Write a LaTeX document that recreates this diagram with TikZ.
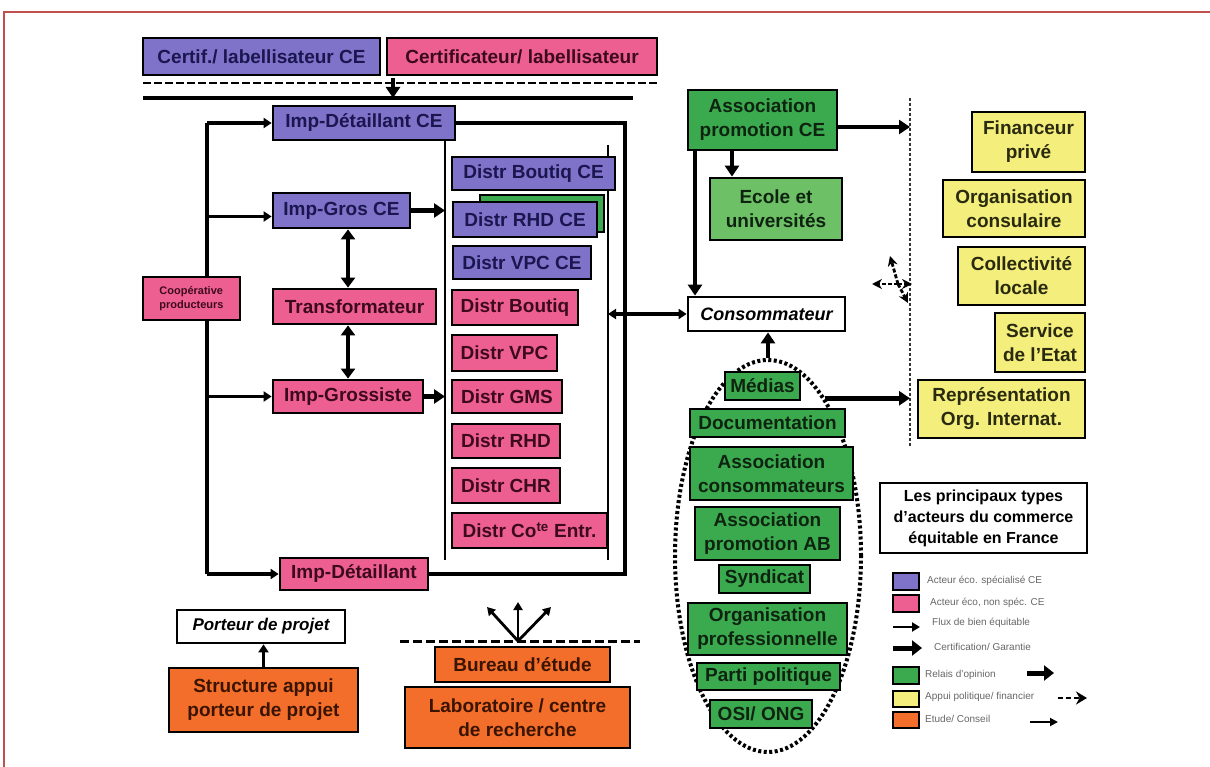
\documentclass[tikz,border=0pt]{standalone}
\usepackage{fontspec}
\setmainfont{Liberation Sans}
\usetikzlibrary{arrows.meta,shapes.geometric}
\definecolor{purp}{HTML}{7F72C9}
\definecolor{purpT}{HTML}{1A1650}
\definecolor{pinkc}{HTML}{EE5F91}
\definecolor{pinkT}{HTML}{3D0A1C}
\definecolor{grn}{HTML}{3BAA4E}
\definecolor{grnL}{HTML}{6DC065}
\definecolor{grnT}{HTML}{0E2410}
\definecolor{yel}{HTML}{F4EE7C}
\definecolor{yelT}{HTML}{2A2A10}
\definecolor{org}{HTML}{F36E2A}
\definecolor{orgT}{HTML}{3A1400}
\definecolor{frm}{HTML}{C0504D}
\newcommand\bx[7]{\node[#2,minimum width={(#5)-(#3)},minimum height={(#6)-(#4)}] (#1) at ({((#3)+(#5))/2},{((#4)+(#6))/2}) {#7};}
\tikzset{
  box/.style={draw=black, line width=2.8pt, inner sep=1pt, align=center,
    font=\fontsize{19}{24}\selectfont\bfseries},
  pu/.style={box, fill=purp, text=purpT},
  pk/.style={box, fill=pinkc, text=pinkT},
  gr/.style={box, fill=grn, text=grnT},
  gl/.style={box, fill=grnL, text=grnT},
  ye/.style={box, fill=yel, text=yelT},
  ob/.style={box, fill=org, text=orgT},
  wh/.style={box, fill=white, text=black, font=\fontsize{18}{22}\selectfont\bfseries\itshape},
  lg/.style={draw=black, line width=2pt, inner sep=0pt},
  lgt/.style={anchor=west, inner sep=0pt, text=black!60, font=\fontsize{10}{12}\selectfont},
  ln/.style={line width=3.2pt},
  thinln/.style={line width=2pt},
  flow/.style={line width=3.2pt, -{Triangle[length=8pt,width=10pt]}},
  flowd/.style={line width=3.2pt, {Triangle[length=8pt,width=10pt]}-{Triangle[length=8pt,width=10pt]}},
  big/.style={line width=4.8pt, -{Triangle[length=11pt,width=14pt]}},
  bigd/.style={line width=4.8pt, {Triangle[length=10pt,width=14pt]}-{Triangle[length=10pt,width=14pt]}},
  dashA/.style={line width=2.5pt, dash pattern=on 8pt off 3pt},
  dline/.style={line width=1.5pt, black!80, dash pattern=on 3pt off 2pt},
  dar/.style={line width=2.8pt, dash pattern=on 4pt off 2pt, -{Stealth[length=10pt,width=10pt]}},
  fan/.style={line width=2.8pt, -{Triangle[length=8pt,width=9pt]}},
}
\begin{document}
\begin{tikzpicture}[x=1pt,y=-1pt]
\useasboundingbox (0,0) rectangle (1210,767);
% frame
\draw[frm, line width=1.5pt] (4,767) -- (4,12) -- (1210,12);

% ---------- coordinates for free ends
\coordinate (dsh1) at (143,83); \coordinate (dsh2) at (657,83);
\coordinate (sl1) at (143,98);  \coordinate (sl2) at (633,98);
\coordinate (ca) at (393,78);
\coordinate (L) at (207,300);
\coordinate (R) at (625,300);
\coordinate (V) at (348,300);
\coordinate (i1t) at (445,140); \coordinate (i1b) at (445,560);
\coordinate (i2t) at (608,145); \coordinate (i2b) at (608,560);
\coordinate (ax) at (732,160);
\coordinate (cx) at (695,160);
\coordinate (D) at (910,98); \coordinate (Db) at (910,447);
\coordinate (dc) at (898,284);
\coordinate (dl1) at (872,284); \coordinate (dl2) at (890,256); \coordinate (dl3) at (908,303); \coordinate (dl4) at (912,284);
\coordinate (bd1) at (400,641); \coordinate (bd2) at (640,641);
\coordinate (fb) at (518,641);
\coordinate (f1) at (487,607); \coordinate (f2) at (518,602); \coordinate (f3) at (551,607);

% ---------- top
\draw[dashA] (dsh1) -- (dsh2);
\draw[ln] (sl1) -- (sl2);
\draw[big] (ca) -- (ca |- sl1);

% ---------- ellipse (behind green boxes)
\node[ellipse, draw, line width=4pt, dash pattern=on 3pt off 2.5pt,
  minimum width=186pt, minimum height=392pt, inner sep=0pt] (ell) at (768,556) {};

% ---------- boxes
\bx{cert1}{pu}{143}{38}{380}{75}{Certif./ labellisateur CE}
\bx{cert2}{pk}{387}{38}{657}{75}{Certificateur/ labellisateur}
\bx{idce}{pu}{273}{106}{455}{140}{Imp-Détaillant CE}
\bx{igce}{pu}{273}{193}{410}{228}{Imp-Gros CE}
\bx{tr}{pk}{273}{289}{436}{324}{Transformateur}
\bx{igr}{pk}{273}{380}{423}{413}{Imp-Grossiste}
\bx{idl}{pk}{280}{558}{428}{590}{Imp-Détaillant}

% lines of the left block
\draw[ln] (L |- idce.west) -- (L |- idl.west);
\draw[flow] (L |- idce.west) -- (idce.west);
\draw[flow] ([yshift=-6pt]L |- igce.west) -- ([yshift=-6pt]igce.west);
\draw[flow] (L |- igr.west) -- (igr.west);
\draw[flow] (L |- idl.west) -- (idl.west);
\draw[ln] (idce.east) -- (idce.east -| R) -- (idl.east -| R) -- (idl.east);
\draw[thinln] (i1t) -- (i1b);
\draw[thinln] (i2t) -- (i2b);
\draw[big] (igce.east) -- (igce.east -| i1t);
\draw[big] (igr.east) -- (igr.east -| i1t);
\draw[bigd] (V |- igce.south) -- (V |- tr.north);
\draw[bigd] (V |- tr.south) -- (V |- igr.north);

\bx{coop}{pk, font=\fontsize{11}{14}\selectfont\bfseries, align=left}{143}{277}{240}{320}{Coopérative\\producteurs}

\bx{d1}{pu}{452}{157}{615}{190}{Distr Boutiq CE}
\bx{rhdsh}{gr}{480}{195}{604}{232}{}
\bx{d2}{pu}{453}{202}{597}{237}{Distr RHD CE}
\bx{d3}{pu}{453}{246}{591}{279}{Distr VPC CE}
\bx{d4}{pk}{452}{290}{578}{325}{Distr Boutiq}
\bx{d5}{pk}{452}{335}{557}{371}{Distr VPC}
\bx{d6}{pk}{452}{380}{562}{413}{Distr GMS}
\bx{d7}{pk}{452}{424}{560}{458}{Distr RHD}
\bx{d8}{pk}{452}{468}{560}{503}{Distr CHR}
\bx{d9}{pk}{452}{513}{607}{548}{Distr Co\textsuperscript{te} Entr.}

% ---------- right part
\bx{apce}{gr}{688}{90}{837}{150}{Association\\promotion CE}
\bx{ecole}{gl}{710}{178}{842}{240}{Ecole et\\universités}
\bx{cons}{wh}{688}{297}{845}{331}{Consommateur}

\draw[flowd] (i2t |- cons.west) -- (cons.west);
\draw[dline] (D) -- (Db);
\draw[big] ([yshift=-7pt]apce.east) -- ([yshift=-7pt]apce.east -| D);
\draw[big] (ax |- apce.south) -- (ax |- ecole.north);
\draw[big] (cx |- apce.south) -- (cx |- cons.north);
\draw[big] (ell.north) -- (ell.north |- cons.south);
\draw[big] (ell.70) -- (ell.70 -| D);
\draw[dar] (dc) -- (dl1);
\draw[dar] (dc) -- (dl2);
\draw[dar] (dc) -- (dl3);
\draw[dar] (dc) -- (dl4);

\bx{fin}{ye}{972}{112}{1085}{172}{Financeur\\privé}
\bx{orgc}{ye}{943}{180}{1085}{237}{Organisation\\consulaire}
\bx{coll}{ye}{958}{247}{1085}{305}{Collectivité\\locale}
\bx{serv}{ye}{995}{313}{1085}{372}{Service\\de l'Etat}
\bx{repr}{ye}{918}{380}{1085}{438}{Représentation\\Org. Internat.}

\bx{med}{gr}{725}{372}{800}{400}{Médias}
\bx{doc}{gr}{690}{409}{845}{437}{Documentation}
\bx{acons}{gr}{690}{447}{853}{500}{Association\\consommateurs}
\bx{apab}{gr}{695}{507}{840}{560}{Association\\promotion AB}
\bx{synd}{gr}{719}{565}{810}{593}{Syndicat}
\bx{orgp}{gr}{688}{603}{847}{655}{Organisation\\professionnelle}
\bx{parti}{gr}{697}{663}{840}{690}{Parti politique}
\bx{osi}{gr}{710}{700}{812}{728}{OSI/ ONG}

% ---------- bottom left
\bx{port}{wh, font=\fontsize{17}{20}\selectfont\bfseries\itshape}{177}{610}{345}{643}{Porteur de projet}
\bx{str}{ob}{169}{668}{358}{732}{Structure appui\\porteur de projet}
\draw[flow] (str.north) -- (str.north |- port.south);

\draw[dashA, line width=3pt, dash pattern=on 9pt off 4pt] (bd1) -- (bd2);
\draw[fan] (fb) -- (f1);
\draw[fan] (fb) -- (f2);
\draw[fan] (fb) -- (f3);
\bx{bur}{ob}{435}{647}{610}{682}{Bureau d'étude}
\bx{lab}{ob}{405}{687}{630}{748}{Laboratoire / centre\\de recherche}

% ---------- legend
\bx{title}{box, fill=white, text=black, font=\fontsize{16}{21}\selectfont\bfseries}{880}{483}{1087}{553}{Les principaux types\\d'acteurs du commerce\\équitable en France}

\bx{lgp}{lg, fill=purp}{893}{573}{919}{590}{}
\bx{lgk}{lg, fill=pinkc}{893}{595}{919}{612}{}
\bx{lgg}{lg, fill=grn}{893}{667}{919}{684}{}
\bx{lgy}{lg, fill=yel}{893}{691}{919}{707}{}
\bx{lgo}{lg, fill=org}{893}{712}{919}{728}{}
\node[lgt] (t1) at (927,581) {Acteur éco. spécialisé CE};
\node[lgt] (t2) at (930,603) {Acteur éco, non spéc. CE};
\node[lgt] (t3) at (932,623) {Flux de bien équitable};
\node[lgt] (t4) at (934,647) {Certification/ Garantie};
\node[lgt] (t5) at (925,675) {Relais d'opinion};
\node[lgt] (t6) at (925,697) {Appui politique/ financier};
\node[lgt] (t7) at (925,719) {Etude/ Conseil};
\coordinate (la1) at (893,627); \coordinate (la2) at (920,627);
\coordinate (lb1) at (893,648); \coordinate (lb2) at (922,648);
\coordinate (lc1) at (1027,673); \coordinate (lc2) at (1054,673);
\coordinate (ld1) at (1058,698); \coordinate (ld2) at (1087,698);
\coordinate (le1) at (1030,722); \coordinate (le2) at (1058,722);
\draw[line width=2.8pt, -{Triangle[length=8pt,width=9pt]}] (la1) -- (la2);
\draw[line width=5pt, -{Triangle[length=10pt,width=15pt]}] (lb1) -- (lb2);
\draw[line width=5pt, -{Triangle[length=10pt,width=15pt]}] (lc1) -- (lc2);
\draw[line width=2.8pt, dash pattern=on 5pt off 3pt, -{Stealth[length=11pt,width=13pt]}] (ld1) -- (ld2);
\draw[line width=1.8pt, -{Triangle[length=8pt,width=8pt]}] (le1) -- (le2);
\end{tikzpicture}
\end{document}
